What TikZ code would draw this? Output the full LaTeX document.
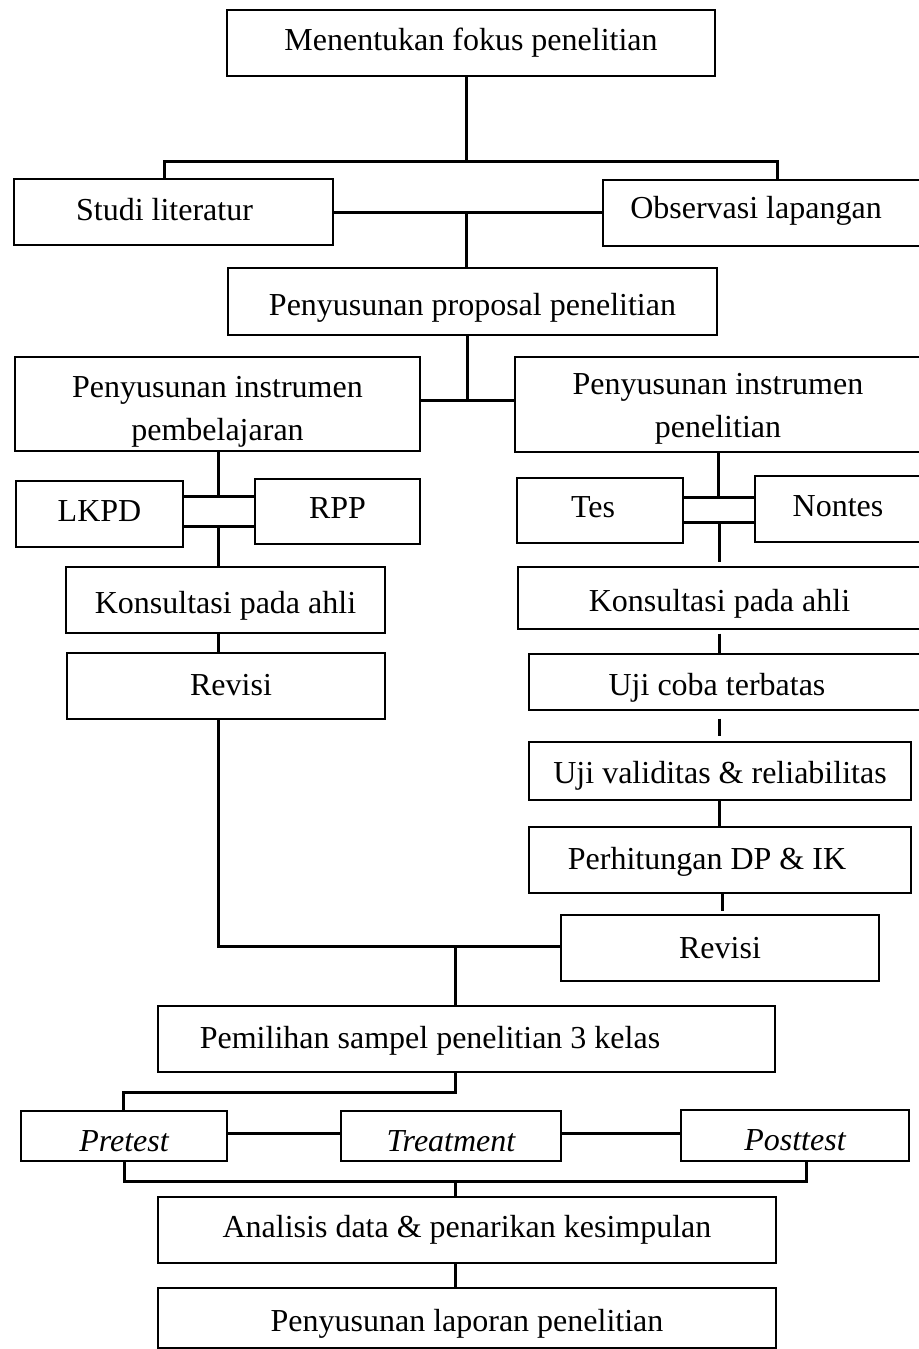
\documentclass[tikz,border=0pt]{standalone}
\usepackage{fontspec}
\setmainfont{Liberation Serif}
\usepackage{tikz}

\begin{document}
\begin{tikzpicture}[x=0.5pt,y=-0.5pt,font=\fontsize{16}{21.5}\selectfont,
  box/.style={draw, line width=0.7pt, inner sep=0pt, align=center, text height=10.5pt, text depth=3.5pt},
  low/.style={text height=13.5pt, text depth=0pt},
  link/.style={line width=1.5pt}]
\useasboundingbox (0,0) rectangle (918,1349);

\node[box, minimum width=244pt, minimum height=33pt] (fokus) at (471,43) {Menentukan fokus penelitian};
\node[box, minimum width=159.5pt, minimum height=33pt, text depth=2pt] (studi) at (173.5,212) {Studi literatur\hspace*{9pt}};
\node[box, minimum width=159pt, minimum height=33pt, text depth=5pt] (obs) at (762,213) {Observasi lapangan\hspace*{6pt}};
\node[box, low, minimum width=244.5pt, minimum height=33.5pt] (proposal) at (472.5,301.5) {Penyusunan proposal penelitian};
\node[box, minimum width=202.5pt, minimum height=47pt, text height=36pt, text depth=0pt] (instA) at (217.5,404) {Penyusunan instrumen\\pembelajaran};
\node[box, minimum width=203pt, minimum height=47.5pt, text height=32.5pt, text depth=0pt] (instB) at (718,404.5) {Penyusunan instrumen\\penelitian};
\node[box, minimum width=83.5pt, minimum height=33pt] (lkpd) at (99.5,514) {LKPD};
\node[box, minimum width=82.5pt, minimum height=32.5pt] (rpp) at (337.5,511.5) {RPP};
\node[box, minimum width=83pt, minimum height=32.5pt] (tes) at (600,510.5) {Tes\hspace*{7pt}};
\node[box, minimum width=83pt, minimum height=33pt] (nontes) at (838,509) {Nontes};
\node[box, low, minimum width=159.5pt, minimum height=33pt] (konsA) at (225.5,600) {Konsultasi pada ahli};
\node[box, low, minimum width=201.5pt, minimum height=31pt] (konsB) at (719.5,598) {Konsultasi pada ahli};
\node[box, minimum width=159pt, minimum height=33pt, text depth=1.5pt] (revA) at (226,686) {\hspace*{5pt}Revisi};
\node[box, low, minimum width=196pt, minimum height=28pt] (uji) at (725,682) {Uji coba terbatas\hspace*{8pt}};
\node[box, low, minimum width=191pt, minimum height=29pt, text height=12.5pt] (valid) at (720,771) {Uji validitas \& reliabilitas};
\node[box, minimum width=191pt, minimum height=33pt, text height=11pt, text depth=2pt] (dpik) at (720,860) {Perhitungan DP \& IK\hspace*{13pt}};
\node[box, minimum width=159pt, minimum height=33pt, text height=11pt, text depth=1pt] (revB) at (720,948) {Revisi};
\node[box, minimum width=308.5pt, minimum height=33pt, text height=11pt, text depth=2pt] (sampel) at (466.5,1039) {Pemilihan sampel penelitian 3 kelas\hspace*{36.5pt}};
\node[box, low, minimum width=103pt, minimum height=25pt, text height=15pt] (pre) at (124,1136) {\itshape Pretest};
\node[box, low, minimum width=110pt, minimum height=25pt, text height=15pt] (treat) at (451,1136) {\itshape Treatment};
\node[box, low, minimum width=114pt, minimum height=25.5pt, text height=15pt] (post) at (795,1135.5) {\itshape Posttest};
\node[box, minimum width=309pt, minimum height=33pt] (analisis) at (467,1230) {Analisis data \& penarikan kesimpulan};
\node[box, low, minimum width=309pt, minimum height=30pt] (laporan) at (467,1318) {Penyusunan laporan penelitian};

\draw[link] (fokus.south -| 466,0) -- (466,161);
\draw[link] (studi.north -| 164,0) |- (777,161) -- (obs.north -| 777,0);
\draw[link] (studi.east |- 0,212) -- (obs.west |- 0,212);
\draw[link] (466,212) -- (proposal.north -| 466,0);
\draw[link] (proposal.south -| 467,0) -- (467,400);
\draw[link] (instA.east |- 0,400) -- (instB.west |- 0,400);

\draw[link] (instA.south -| 218,0) -- (218,496);
\foreach \y in {496,526}{\draw[link] (lkpd.east |- 0,\y) -- (rpp.west |- 0,\y);}
\draw[link] (218,526) -- (konsA.north -| 218,0);
\draw[link] (konsA.south -| 218,0) -- (revA.north -| 218,0);
\draw[link] (revA.south -| 218,0) |- (revB.west |- 0,946);

\draw[link] (instB.south -| 718,0) -- (718,497);
\foreach \y in {497,522}{\draw[link] (tes.east |- 0,\y) -- (nontes.west |- 0,\y);}
\draw[link, shorten >=2pt] (719,522) -- (konsB.north -| 719,0);
\draw[link, shorten <=2pt] (konsB.south -| 719,0) -- (uji.north -| 719,0);
\draw[link, shorten <=4pt, shorten >=2.5pt] (uji.south -| 719,0) -- (valid.north -| 719,0);
\draw[link] (valid.south -| 719,0) -- (dpik.north -| 719,0);
\draw[link, shorten >=1.5pt] (dpik.south -| 722,0) -- (revB.north -| 722,0);

\draw[link] (455,946) -- (sampel.north -| 455,0);
\draw[link] (sampel.south -| 455,0) |- (123,1092) -- (pre.north -| 123,0);
\draw[link] (pre.east |- 0,1133) -- (treat.west |- 0,1133);
\draw[link] (treat.east |- 0,1133) -- (post.west |- 0,1133);
\draw[link] (pre.south -| 124,0) |- (806,1181) -- (post.south -| 806,0);
\draw[link] (455,1181) -- (analisis.north -| 455,0);
\draw[link] (analisis.south -| 455,0) -- (laporan.north -| 455,0);
\end{tikzpicture}
\end{document}
